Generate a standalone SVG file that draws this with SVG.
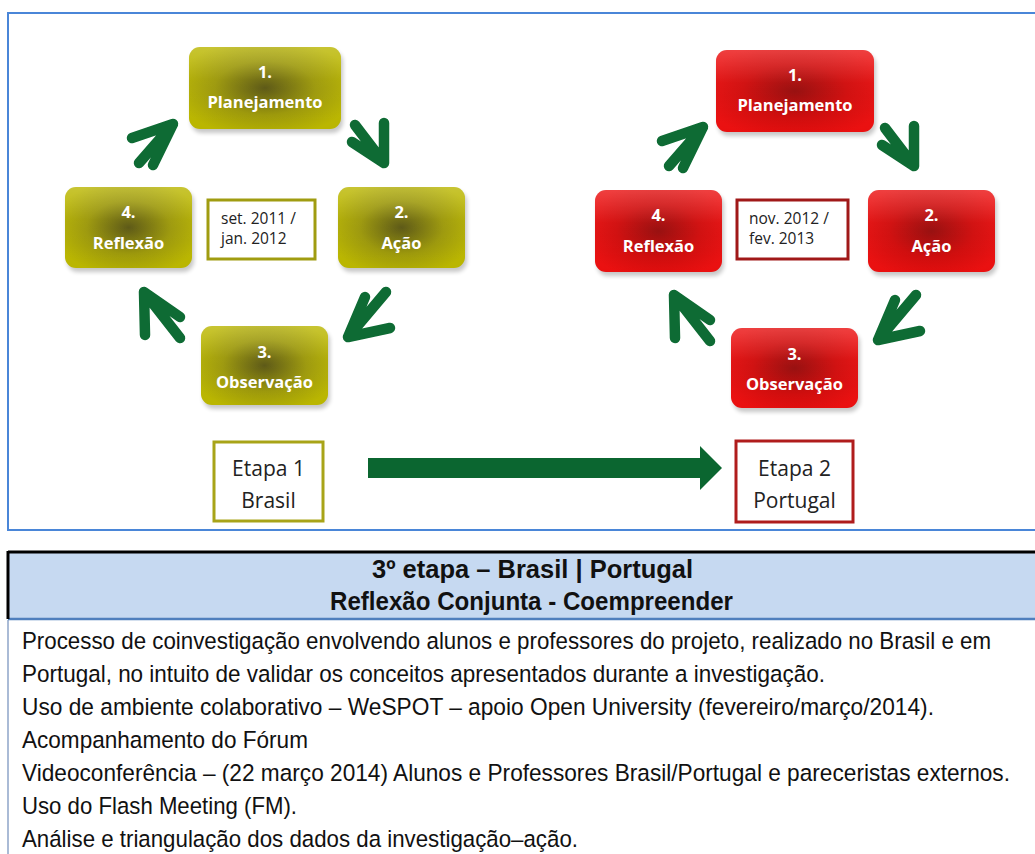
<svg xmlns="http://www.w3.org/2000/svg" width="1035" height="854" viewBox="0 0 1035 854">
<style>
.nt{font-family:"Open Sans","Liberation Sans",sans-serif;font-weight:bold;font-size:16.5px;fill:#ffffff;text-anchor:middle}
.dt{font-family:"Open Sans","Liberation Sans",sans-serif;font-size:15.5px;fill:#222}
.et{font-family:"Open Sans","Liberation Sans",sans-serif;font-size:21px;fill:#222;text-anchor:middle}
.arr{fill:none;stroke:#0e6b34;stroke-width:10.5;stroke-linecap:round;stroke-linejoin:round}
.hd{font-family:"Liberation Sans",sans-serif;font-weight:bold;font-size:25px;fill:#111}
.bd{font-family:"Liberation Sans",sans-serif;font-size:23.5px;fill:#111}
.ol{fill:url(#gOl)}
.rd{fill:url(#gRd)}
.hl{fill:url(#gHl)}
.sh{fill:#000;opacity:0.22;filter:url(#blur)}
</style>
<defs>
<radialGradient id="gOl" cx="0.5" cy="0.5" r="0.6">
<stop offset="0" stop-color="#5a5612"/>
<stop offset="0.55" stop-color="#9c980a"/>
<stop offset="1" stop-color="#bab600"/>
</radialGradient>
<radialGradient id="gRd" cx="0.5" cy="0.5" r="0.6">
<stop offset="0" stop-color="#960b0b"/>
<stop offset="0.55" stop-color="#d00c0c"/>
<stop offset="1" stop-color="#ea1010"/>
</radialGradient>
<linearGradient id="gHl" x1="0" y1="0" x2="0" y2="1">
<stop offset="0" stop-color="#ffffff" stop-opacity="0.2"/>
<stop offset="0.4" stop-color="#ffffff" stop-opacity="0.03"/>
<stop offset="1" stop-color="#ffffff" stop-opacity="0"/>
</linearGradient>
<filter id="blur" x="-10%" y="-10%" width="120%" height="130%"><feGaussianBlur stdDeviation="2"/></filter>
</defs>
<rect width="1035" height="854" fill="#ffffff"/>

<g id="frame" fill="none" stroke="#4a86d8" stroke-width="2">
<path d="M1035,13 H8 V530 H1035"/>
</g>

<g id="connectors">
<path class="arr" d="M132,138 L173,124 L153,165 M173,124 L139,163"/>
<path class="arr" d="M384,123 L384,163 L352,142 M384,163 L355,125"/>
<path class="arr" d="M390,328 L348,337 L365,297 M348,337 L386,292"/>
<path class="arr" d="M145,335 L144,292 L180,317 M144,292 L180,338"/>
<g transform="translate(530,3)">
<path class="arr" d="M132,138 L173,124 L153,165 M173,124 L139,163"/>
<path class="arr" d="M384,123 L384,163 L352,142 M384,163 L355,125"/>
<path class="arr" d="M390,328 L348,337 L365,297 M348,337 L386,292"/>
<path class="arr" d="M145,335 L144,292 L180,317 M144,292 L180,338"/>
</g>
<path id="bigArrow" fill="#0b6630" d="M368,458 H700 V446 L722,468 L700,490 V478 H368 Z"/>
</g>

<g id="n1">
<rect class="sh" x="191" y="51" width="152" height="82" rx="11"/>
<rect class="ol" x="189" y="47" width="152" height="82" rx="11"/>
<rect class="hl" x="189" y="47" width="152" height="82" rx="11"/>
<text class="nt" x="265" y="78">1.</text>
<text class="nt" x="265" y="108">Planejamento</text>
</g>
<g id="n2">
<rect class="sh" x="340" y="191" width="127" height="81" rx="11"/>
<rect class="ol" x="338" y="187" width="127" height="81" rx="11"/>
<rect class="hl" x="338" y="187" width="127" height="81" rx="11"/>
<text class="nt" x="401.5" y="218">2.</text>
<text class="nt" x="401.5" y="249">Ação</text>
</g>
<g id="n3">
<rect class="sh" x="203" y="330" width="127" height="79" rx="11"/>
<rect class="ol" x="201" y="326" width="127" height="79" rx="11"/>
<rect class="hl" x="201" y="326" width="127" height="79" rx="11"/>
<text class="nt" x="264.5" y="358">3.</text>
<text class="nt" x="264.5" y="388">Observação</text>
</g>
<g id="n4">
<rect class="sh" x="67" y="191" width="127" height="81" rx="11"/>
<rect class="ol" x="65" y="187" width="127" height="81" rx="11"/>
<rect class="hl" x="65" y="187" width="127" height="81" rx="11"/>
<text class="nt" x="128.5" y="218">4.</text>
<text class="nt" x="128.5" y="249">Reflexão</text>
</g>
<g id="date1">
<rect x="208" y="200" width="107" height="59" fill="#fff" stroke="#a09c10" stroke-width="3"/>
<text class="dt" x="221" y="224">set. 2011 /</text>
<text class="dt" x="221" y="244">jan. 2012</text>
</g>
<g id="etapa1">
<rect x="214" y="442" width="109" height="79" fill="#fff" stroke="#a8a418" stroke-width="3"/>
<text class="et" x="268.5" y="476">Etapa 1</text>
<text class="et" x="268.5" y="508">Brasil</text>
</g>

<g id="m1">
<rect class="sh" x="718" y="54" width="158" height="82" rx="11"/>
<rect class="rd" x="716" y="50" width="158" height="82" rx="11"/>
<rect class="hl" x="716" y="50" width="158" height="82" rx="11"/>
<text class="nt" x="795" y="81">1.</text>
<text class="nt" x="795" y="111">Planejamento</text>
</g>
<g id="m2">
<rect class="sh" x="870" y="194" width="127" height="82" rx="11"/>
<rect class="rd" x="868" y="190" width="127" height="82" rx="11"/>
<rect class="hl" x="868" y="190" width="127" height="82" rx="11"/>
<text class="nt" x="931.5" y="221">2.</text>
<text class="nt" x="931.5" y="252">Ação</text>
</g>
<g id="m3">
<rect class="sh" x="733" y="332" width="127" height="80" rx="11"/>
<rect class="rd" x="731" y="328" width="127" height="80" rx="11"/>
<rect class="hl" x="731" y="328" width="127" height="80" rx="11"/>
<text class="nt" x="794.5" y="360">3.</text>
<text class="nt" x="794.5" y="390">Observação</text>
</g>
<g id="m4">
<rect class="sh" x="597" y="194" width="127" height="82" rx="11"/>
<rect class="rd" x="595" y="190" width="127" height="82" rx="11"/>
<rect class="hl" x="595" y="190" width="127" height="82" rx="11"/>
<text class="nt" x="658.5" y="221">4.</text>
<text class="nt" x="658.5" y="252">Reflexão</text>
</g>
<g id="date2">
<rect x="737" y="200" width="111" height="59" fill="#fff" stroke="#a01818" stroke-width="3"/>
<text class="dt" x="749" y="224">nov. 2012 /</text>
<text class="dt" x="749" y="244">fev. 2013</text>
</g>
<g id="etapa2">
<rect x="736" y="441" width="117" height="81" fill="#fff" stroke="#b01c1c" stroke-width="3"/>
<text class="et" x="794.5" y="476">Etapa 2</text>
<text class="et" x="794.5" y="508">Portugal</text>
</g>

<g id="table">
<rect x="8" y="552" width="1027" height="67" fill="#c6d9f1"/>
<path d="M8,620 V854" stroke="#8ea4c8" stroke-width="1.5" fill="none"/>
<path d="M8,619 H1035" stroke="#4f7fbd" stroke-width="2.5" fill="none"/>
<path d="M8,552 H1035 M8,551 V619" stroke="#000" stroke-width="3" fill="none"/>
<g transform="scale(0.89,1)">
<text class="hd" x="418" y="578" textLength="360.7" lengthAdjust="spacingAndGlyphs">3º etapa – Brasil | Portugal</text>
<text class="hd" x="370.8" y="610" textLength="452.8" lengthAdjust="spacingAndGlyphs">Reflexão Conjunta - Coempreender</text>
<text class="bd" x="24.7" y="649" textLength="1088.8" lengthAdjust="spacingAndGlyphs">Processo de coinvestigação envolvendo alunos e professores do projeto, realizado no Brasil e em</text>
<text class="bd" x="24.7" y="682" textLength="902.2" lengthAdjust="spacingAndGlyphs">Portugal, no intuito de validar os conceitos apresentados durante a investigação.</text>
<text class="bd" x="24.7" y="715" textLength="1024.7" lengthAdjust="spacingAndGlyphs">Uso de ambiente colaborativo – WeSPOT – apoio Open University (fevereiro/março/2014).</text>
<text class="bd" x="24.7" y="748" textLength="321.3" lengthAdjust="spacingAndGlyphs">Acompanhamento do Fórum</text>
<text class="bd" x="24.7" y="781" textLength="1110.1" lengthAdjust="spacingAndGlyphs">Videoconferência – (22 março 2014) Alunos e Professores Brasil/Portugal e pareceristas externos.</text>
<text class="bd" x="24.7" y="814" textLength="309" lengthAdjust="spacingAndGlyphs">Uso do Flash Meeting (FM).</text>
<text class="bd" x="24.7" y="847" textLength="624.7" lengthAdjust="spacingAndGlyphs">Análise e triangulação dos dados da investigação–ação.</text>
</g>
</g>
</svg>
